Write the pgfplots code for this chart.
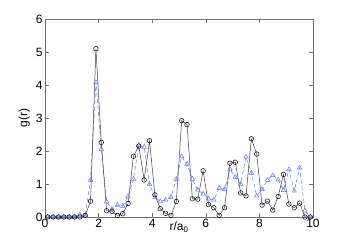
\documentclass[border=0pt]{standalone}
\usepackage{pgfplots}
\pgfplotsset{compat=1.18}
\usepackage{fontspec}
\setmainfont{Liberation Sans}
\definecolor{axgray}{RGB}{110,110,110}
\definecolor{lblue}{RGB}{90,120,255}
\definecolor{dgray}{RGB}{60,60,60}
\begin{document}
\begin{tikzpicture}
\useasboundingbox (0,0) rectangle (346pt,245pt);
\begin{axis}[
  at={(45pt,28pt)}, anchor=south west,
  scale only axis, width=268pt, height=198pt,
  xmin=0, xmax=10, ymin=0, ymax=6,
  xtick={0,2,4,6,8,10}, ytick={0,1,2,3,4,5,6},
  tick align=inside, major tick length=4pt,
  axis line style={axgray, line width=0.6pt},
  tick style={axgray, line width=0.5pt},
  font=\fontsize{12}{14}\selectfont,
  /pgf/number format/assume math mode=true,
  ticklabel style={black},
  xticklabel style={yshift=1pt},
  yticklabel style={xshift=1pt},
  ylabel={g(r)},
  ylabel style={yshift=-1pt},
  xlabel={r/a\textsubscript{0}},
  xlabel style={at={(axis description cs:0.5,0)}, anchor=north, yshift=-1pt},
]
\addplot[lblue, dash pattern=on 4pt off 2.5pt, line width=0.5pt, mark=triangle, mark size=2.6pt, mark options={solid, line width=0.5pt}] coordinates {
(0.1,0)(0.3,0)(0.5,0)(0.7,0)(0.9,0)(1.1,0)(1.3,0.07)(1.5,0.05)(1.7,1.12)(1.9,4.08)
(2.1,2.06)(2.3,0.46)(2.5,0.24)(2.7,0.36)(2.9,0.33)(3.1,0.62)(3.3,1.15)(3.5,2.17)(3.7,2.12)(3.9,0.99)
(4.1,0.60)(4.3,0.47)(4.5,0.52)(4.7,0.60)(4.9,1.15)(5.1,1.83)(5.3,1.60)(5.5,1.15)(5.7,0.82)(5.9,0.70)
(6.1,0.55)(6.3,0.52)(6.5,0.87)(6.7,0.84)(6.9,1.45)(7.1,1.21)(7.3,1.0)(7.5,1.82)(7.7,1.33)(7.9,0.64)
(8.1,0.84)(8.3,1.12)(8.5,1.26)(8.7,1.13)(8.9,0.81)(9.1,1.44)(9.3,0.79)(9.5,1.49)(9.7,0.19)(9.9,0)
};
\addplot[dgray, line width=0.5pt, mark=o, mark size=2.3pt, mark options={black, line width=0.5pt}] coordinates {
(0.1,0)(0.3,0)(0.5,0)(0.7,0)(0.9,0)(1.1,0)(1.3,0)(1.5,0.05)(1.7,0.48)(1.9,5.1)
(2.1,2.26)(2.3,0.19)(2.5,0.17)(2.7,0.05)(2.9,0.1)(3.1,0.41)(3.3,1.84)(3.5,2.15)(3.7,1.12)(3.9,2.31)
(4.1,0.67)(4.3,0.25)(4.5,0.11)(4.7,0.05)(4.9,0.47)(5.1,2.92)(5.3,2.80)(5.5,0.55)(5.7,0.54)(5.9,1.40)
(6.1,0.38)(6.3,0.28)(6.5,0.05)(6.7,0.28)(6.9,1.63)(7.1,1.66)(7.3,0.73)(7.5,0.64)(7.7,2.37)(7.9,1.91)
(8.1,0.36)(8.3,0.48)(8.5,0.21)(8.7,0.62)(8.9,1.29)(9.1,0.39)(9.3,0.28)(9.5,0.42)(9.7,0)(9.9,0)
};
\end{axis}
\end{tikzpicture}
\end{document}
